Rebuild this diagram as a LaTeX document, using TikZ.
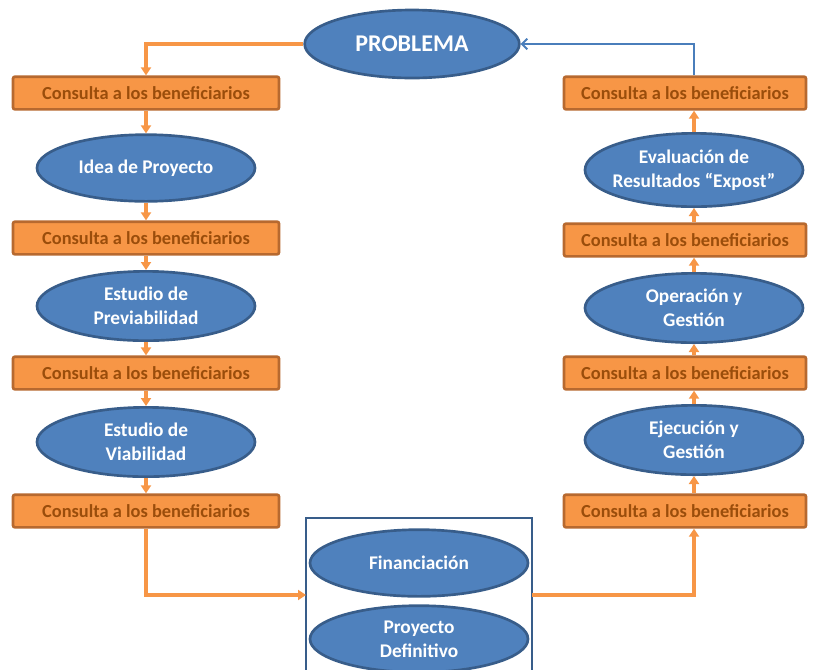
\documentclass[tikz,border=0pt]{standalone}
\usepackage{fontspec}
\setmainfont{Carlito}
\usetikzlibrary{shapes.geometric,arrows.meta}
\definecolor{ofill}{HTML}{F79646}
\definecolor{oline}{HTML}{B7692F}
\definecolor{otext}{HTML}{9A4D0B}
\definecolor{bfill}{HTML}{4F81BD}
\definecolor{bline}{HTML}{385D8A}
\definecolor{conn}{HTML}{F79646}
\definecolor{blueconn}{HTML}{4A7EBB}
\begin{document}
\begin{tikzpicture}[x=0.75pt,y=-0.75pt,
 ell/.style={ellipse, fill=bfill, draw=bline, line width=2pt, text=white,
   font=\bfseries\fontsize{14.5}{18}\selectfont, align=center, inner sep=0pt,
   minimum width=163.5pt, minimum height=51pt},
 cbox/.style={rectangle, rounded corners=1.5pt, fill=ofill, draw=oline, line width=2pt,
   text=otext, font=\bfseries\fontsize{13.8}{15}\selectfont, inner sep=0pt, minimum height=24.5pt},
 lbox/.style={cbox, minimum width=199.5pt},
 rbox/.style={cbox, minimum width=181.5pt},
 arr/.style={draw=conn, line width=2.6pt, -{Triangle[width=7.5pt,length=6pt]}},
 barr/.style={draw=blueconn, line width=1.4pt, -{Straight Barb[width=8pt,length=4pt]}},
]
\useasboundingbox (0,0) rectangle (820,669);
\clip (0,0) rectangle (820,669);

% top
\node[ell, minimum width=161pt, font=\bfseries\fontsize{18}{20}\selectfont] (prob) at (412,44) {PROBLEMA};

% left column
\node[lbox] (lb1) at (146,93) {Consulta a los beneficiarios\hspace{8pt}};
\node[ell, minimum height=50pt] (idea) at (146,168) {Idea de Proyecto};
\node[lbox] (lb2) at (146,238) {Consulta a los beneficiarios\hspace{8pt}};
\node[ell, minimum height=52pt] (prev) at (146,306) {Estudio de\\Previabilidad};
\node[lbox] (lb3) at (146,373) {Consulta a los beneficiarios\hspace{8pt}};
\node[ell, minimum height=52pt] (viab) at (146,442) {Estudio de\\Viabilidad};
\node[lbox] (lb4) at (146,511) {Consulta a los beneficiarios\hspace{8pt}};

% right column
\node[rbox] (rb1) at (685,93) {Consulta a los beneficiarios};
\node[ell, inner xsep=-4.5pt, minimum height=55pt] (eval) at (694,170) {Evaluación de\\Resultados “Expost”};
\node[rbox] (rb2) at (685,240) {Consulta a los beneficiarios};
\node[ell, minimum height=52pt] (oper) at (694,308) {Operación y\\Gestión};
\node[rbox] (rb3) at (685,373) {Consulta a los beneficiarios};
\node[ell, minimum height=52pt] (ejec) at (694,440) {Ejecución y\\Gestión};
\node[rbox] (rb4) at (685,511) {Consulta a los beneficiarios};

% center
\draw[bline, line width=2pt] (306,690) |- (532,518) -- (532,690);
\node[ell, minimum height=50pt] (fin) at (419,563) {Financiación};
\node[ell, minimum height=50pt] (pdef) at (419,639) {Proyecto\\Definitivo};
\coordinate (cin) at (306,595);
\coordinate (cout) at (532,595);

% connectors left
\draw[arr] (prob.west) -| (lb1.north);
\draw[arr] (lb1.south) -- (idea.north);
\draw[arr] (idea.south) -- (lb2.north);
\draw[arr] (lb2.south) -- (prev.north);
\draw[arr] (prev.south) -- (lb3.north);
\draw[arr] (lb3.south) -- (viab.north);
\draw[arr] (viab.south) -- (lb4.north);
\draw[arr] (lb4.south) |- (cin);

% connectors right
\draw[arr] (cout) -| (rb4.south -| ejec.south);
\draw[arr] (rb4.north -| ejec.south) -- (ejec.south);
\draw[arr] (ejec.north) -- (ejec.north |- rb3.south);
\draw[arr] (rb3.north -| oper.south) -- (oper.south);
\draw[arr] (oper.north) -- (oper.north |- rb2.south);
\draw[arr] (rb2.north -| eval.south) -- (eval.south);
\draw[arr] (eval.north) -- (eval.north |- rb1.south);
\draw[barr] (rb1.north -| eval.north) |- (prob.east);
\end{tikzpicture}
\end{document}
